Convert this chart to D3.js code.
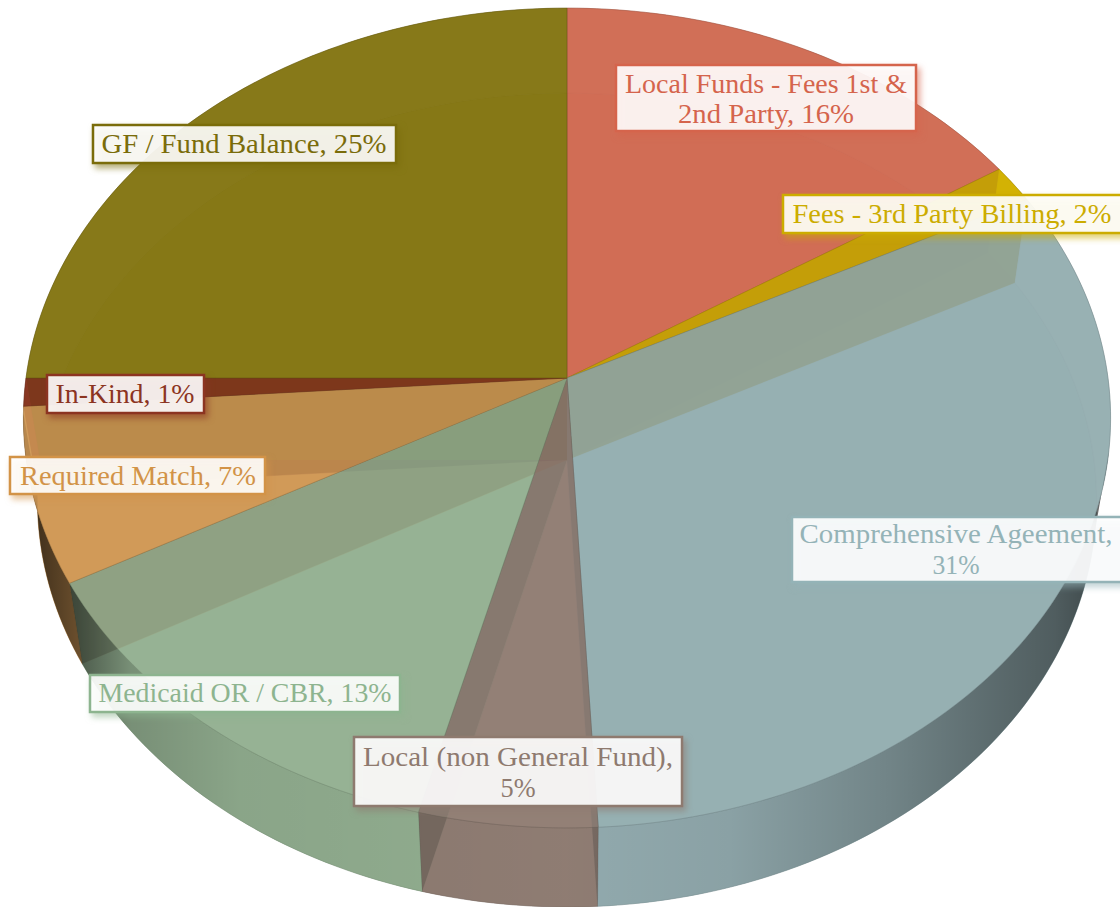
<!DOCTYPE html>
<html>
<head>
<meta charset="utf-8" />
<title>Funding sources</title>
<script src="https://d3js.org/d3.v7.min.js"></script>
<style>
  html, body { margin: 0; padding: 0; background: #fff; overflow: hidden; }
  svg { display: block; }
  text { font-family: Georgia, "Liberation Serif", serif; font-size: 27px; }
</style>
</head>
<body>
<script>
// slice values (labels show the rounded figures)
const categories = ["Local Funds - Fees 1st & 2nd Party", "Fees - 3rd Party Billing", "Comprehensive Ageement",
  "Local (non General Fund)", "Medicaid OR / CBR", "Required Match", "In-Kind", "GF / Fund Balance"];
const values = [15.9, 1.5, 31.77, 4.83, 13, 6.9, 1.1, 25];
const percents = ["16%", "2%", "31%", "5%", "13%", "7%", "1%", "25%"];
const faceColors = ["#d06d55", "#d2b000", "#96afb2", "#928076", "#96b294", "#d09a58", "#87351f", "#857715"];
const labelColors = ["#d5644c", "#ccac00", "#94b3b7", "#8e7a6f", "#8db48f", "#d29347", "#8c3421", "#7a6c0a"];

// label layout: box, then one entry per text line [text, centre y, width]
const labelLayout = [
  { box: [616, 65, 300, 66], cx: 766, lines: [["Local Funds - Fees 1st &", 84, 282], ["2nd Party, 16%", 114, 176]] },
  { box: [783, 195, 345, 38], cx: 952, lines: [["Fees - 3rd Party Billing, 2%", 214, 319]] },
  { box: [792, 517, 340, 65], cx: 956, lines: [["Comprehensive Ageement,", 534, 313], ["31%", 565, 47]] },
  { box: [354, 737, 328, 69], cx: 518, lines: [["Local (non General Fund),", 757, 310], ["5%", 788, 35]] },
  { box: [90, 675, 310, 37], cx: 245, lines: [["Medicaid OR / CBR, 13%", 693, 293]] },
  { box: [10, 457, 255, 37], cx: 138, lines: [["Required Match, 7%", 476, 236]] },
  { box: [47, 375, 157, 38], cx: 125, lines: [["In-Kind, 1%", 394, 139]] },
  { box: [93, 125, 303, 38], cx: 244, lines: [["GF / Fund Balance, 25%", 144, 285]] }
];

const width = 1120, height = 907;
// perspective view of the pie: centre, half axes and foreshortening of each face
const topFace = { x: 567, y: 378, a: 541, b: 406, k: 0.0976 };
const baseFace = { x: 567, y: 460, a: 527, b: 403, k: 0.0983 };

const fillAlpha = 0.84;

function project(angle, face) {
  const u = Math.sin(angle), v = Math.cos(angle);
  const s = 1 / (1 + face.k * v);
  return [face.x + face.a * u * s, face.y - face.b * v * s];
}

function arcPoints(a0, a1, face) {
  const n = Math.max(2, Math.ceil((a1 - a0) / 0.02));
  return d3.range(n + 1).map(i => project(a0 + (a1 - a0) * i / n, face));
}

const line = d3.line();
const closed = pts => line(pts) + "Z";

const wedge = (d, face) => closed([[face.x, face.y], ...arcPoints(d.startAngle, d.endAngle, face)]);
const rimWall = (a0, a1) => closed([...arcPoints(a0, a1, topFace), ...arcPoints(a0, a1, baseFace).reverse()]);
const sideWall = a => closed([[topFace.x, topFace.y], project(a, topFace), project(a, baseFace), [baseFace.x, baseFace.y]]);

const slices = d3.pie().sort(null).value(d => d)(values);
slices.forEach((d, i) => {
  d.color = faceColors[i];
  d.height = Math.cos((d.startAngle + d.endAngle) / 2);
});

const svg = d3.select("body").append("svg").attr("width", width).attr("height", height);

const defs = svg.append("defs");
const shade = defs.append("linearGradient").attr("id", "wallShade")
  .attr("gradientUnits", "userSpaceOnUse")
  .attr("x1", 22).attr("y1", 0).attr("x2", 1110).attr("y2", 0);
[[0, .75], [.05, .5], [.1, .2], [.2, .08], [.5, .03], [.65, .08], [.8, .25], [.9, .4], [.95, .47], [1, .62]]
  .forEach(s => shade.append("stop").attr("offset", s[0]).attr("stop-color", "#000").attr("stop-opacity", s[1]));

const pie3d = svg.append("g").attr("class", "pie");
const edge = d => d3.color(d.color).darker(0.8).formatHex();

function drawRim(data) {
  pie3d.append("g").selectAll("path").data(data).join("path")
    .attr("d", d => rimWall(d.startAngle, d.endAngle))
    .attr("fill", d => d.color).attr("fill-opacity", .9)
    .attr("stroke", edge).attr("stroke-opacity", .35).attr("stroke-width", .6);
}

// base of the pie, seen through everything above it
pie3d.append("g").selectAll("path").data(slices).join("path")
  .attr("d", d => wedge(d, baseFace))
  .attr("fill", d => d.color).attr("fill-opacity", .98)
  .attr("stroke", edge).attr("stroke-opacity", .5).attr("stroke-width", .8);

// back of the rim goes behind the walls
drawRim(slices.filter(d => d.height > 0.1));

// one straight wall per slice boundary, in the colour of the slice lying further back
const walls = slices.map((d, i) => {
  const next = slices[(i + 1) % slices.length];
  return { angle: d.endAngle, color: d.height > next.height ? d.color : next.color };
});
pie3d.append("g").selectAll("path").data(walls).join("path")
  .attr("d", d => sideWall(d.angle))
  .attr("fill", d => d3.color(d.color).darker(1.6).formatHex()).attr("fill-opacity", .95);

// rest of the rim
drawRim(slices.filter(d => d.height <= 0.1));

// the front part of the rim darkens towards the sides
const front = [100, 265].map(d => d * Math.PI / 180);
pie3d.append("g").selectAll("path")
  .data(slices.filter(d => d.endAngle > front[0] && d.startAngle < front[1])).join("path")
  .attr("d", d => rimWall(Math.max(d.startAngle, front[0]), Math.min(d.endAngle, front[1])))
  .attr("fill", "url(#wallShade)");

// front walls show faintly through the rim
pie3d.append("g").selectAll("path")
  .data(walls.filter(d => d.angle > front[0] && d.angle < front[1])).join("path")
  .attr("d", d => sideWall(d.angle))
  .attr("fill", "#000").attr("fill-opacity", .13);

// top face
pie3d.append("g").selectAll("path").data(slices).join("path")
  .attr("d", d => wedge(d, topFace))
  .attr("fill", d => d.color).attr("fill-opacity", fillAlpha)
  .attr("stroke", edge).attr("stroke-opacity", .6).attr("stroke-width", .8);

// data labels
const labels = svg.append("g").attr("class", "labels").selectAll("g").data(labelLayout).join("g");

labels.append("rect")
  .attr("x", d => d.box[0]).attr("y", d => d.box[1])
  .attr("width", d => d.box[2]).attr("height", d => d.box[3])
  .attr("fill", "#fff").attr("fill-opacity", .9)
  .attr("stroke", (d, i) => labelColors[i]).attr("stroke-width", 2.5)
  .style("filter", (d, i) => `drop-shadow(3px 4px 3px ${labelColors[i]}99)`);

labels.each(function(d, i) {
  d3.select(this).selectAll("text").data(d.lines).join("text")
    .attr("x", d.cx).attr("y", l => l[1])
    .attr("dy", "0.33em")
    .attr("text-anchor", "middle")
    .attr("textLength", l => l[2])
    .attr("lengthAdjust", "spacingAndGlyphs")
    .attr("fill", labelColors[i])
    .text(l => l[0]);
});
</script>
</body>
</html>
